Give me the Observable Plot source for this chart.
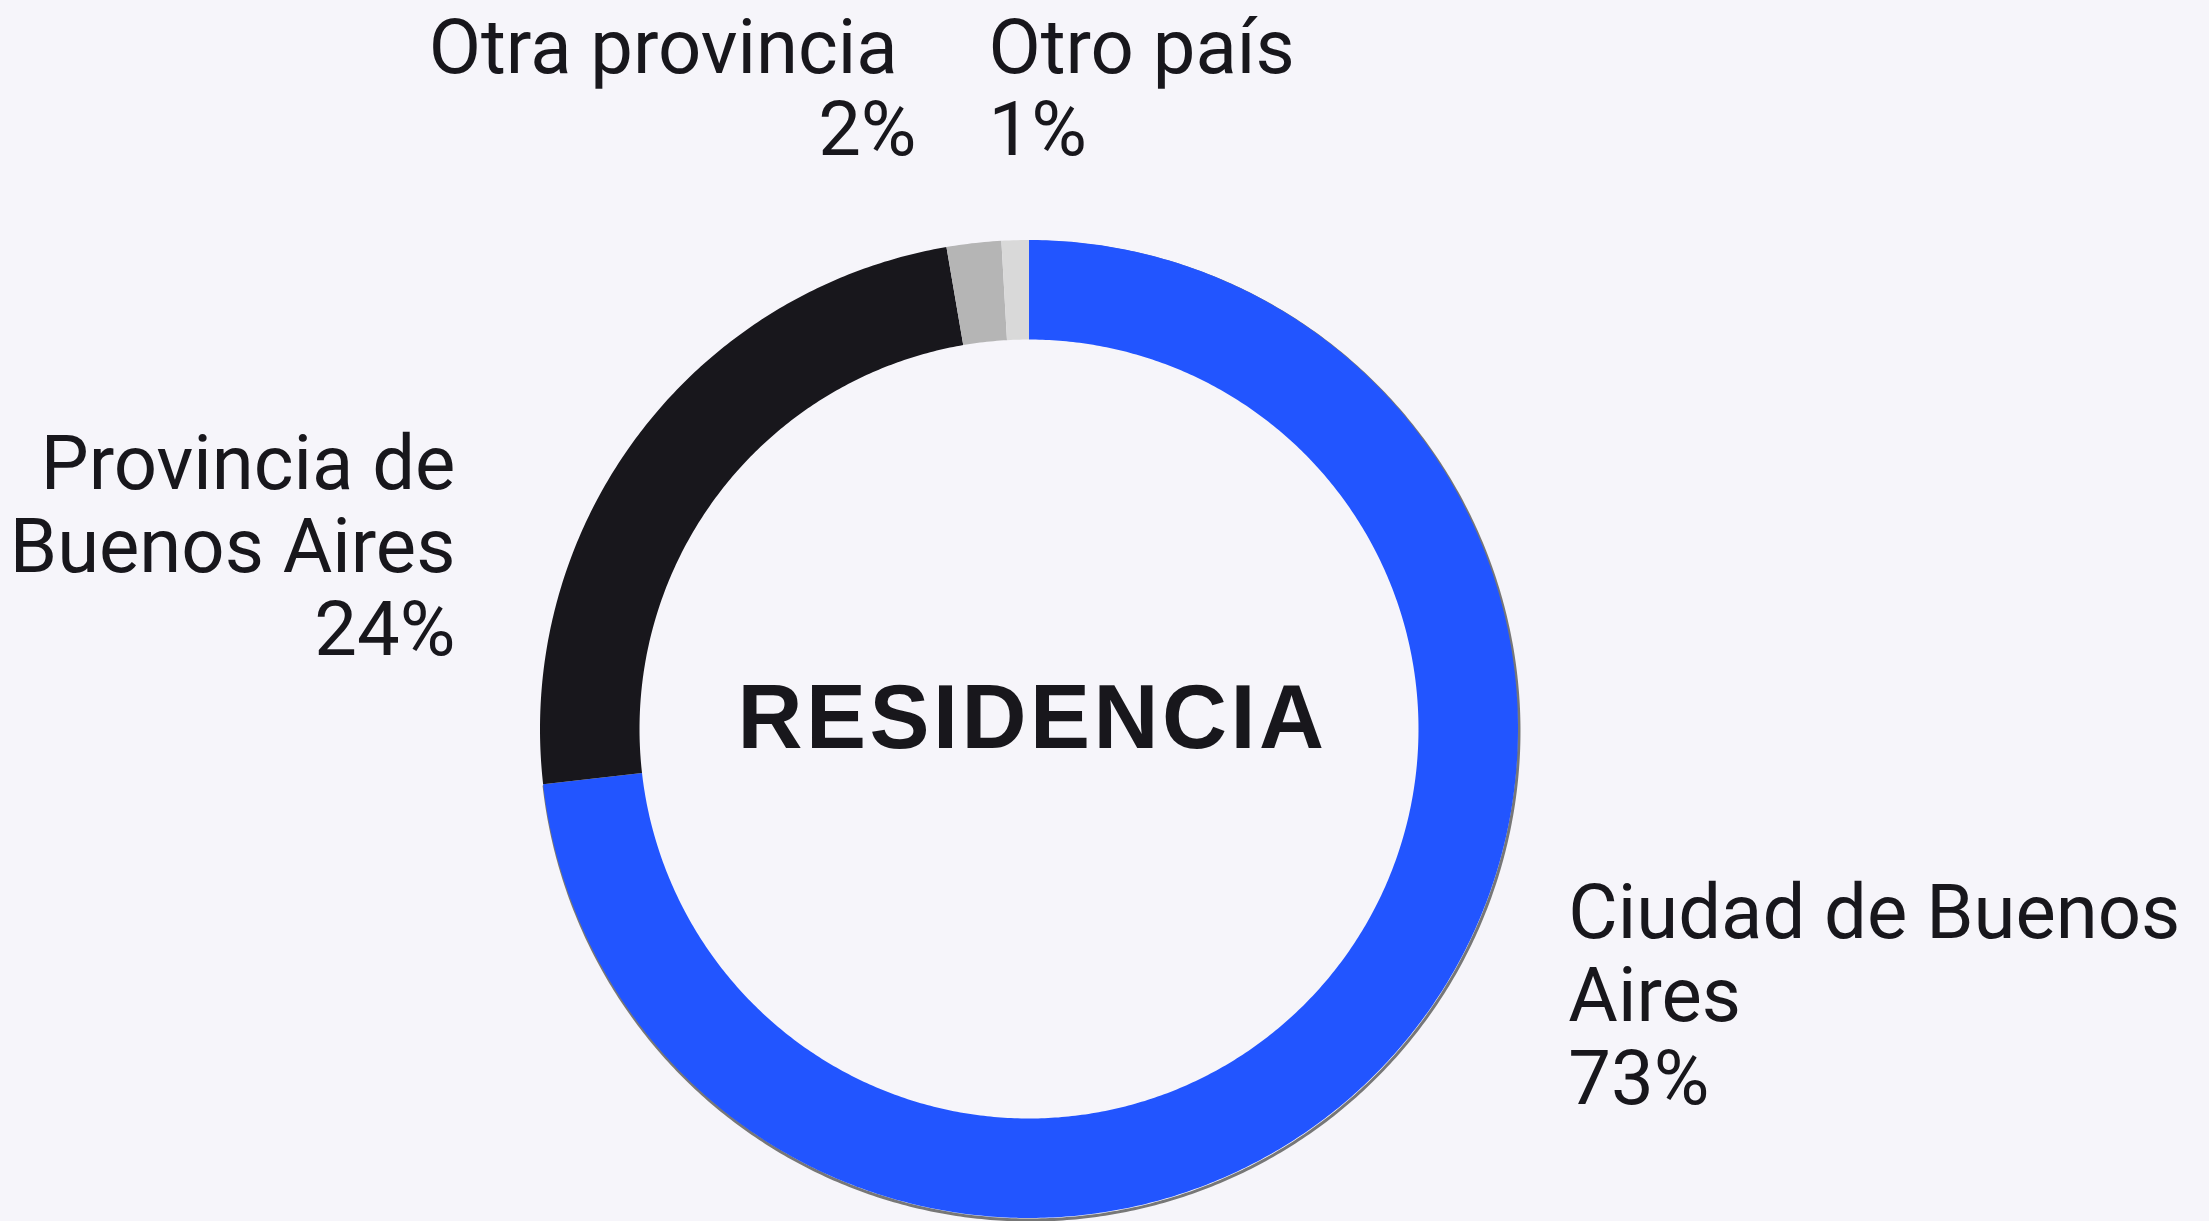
<!DOCTYPE html>
<html>
<head>
<meta charset="utf-8">
<script src="https://cdn.jsdelivr.net/npm/d3@7"></script>
<script src="https://cdn.jsdelivr.net/npm/@observablehq/plot@0.6"></script>
<style>
  html, body { margin: 0; padding: 0; background: #f6f5fa; }
  #chart svg { display: block; background: #f6f5fa; }
</style>
</head>
<body>
<div id="chart"></div>
<script>
// ---- data ----
const categories = ["Ciudad de Buenos Aires", "Provincia de Buenos Aires", "Otra provincia", "Otro país"];
const values = [73.2, 24.1, 1.8, 0.9];
const labelNames = ["Ciudad de Buenos\nAires", "Provincia de\nBuenos Aires", "Otra provincia\u00a0", "Otro país"];
const colors = ["#2255ff", "#18171c", "#b5b5b5", "#d9d9d9"];
const centerTitle = "RESIDENCIA";

// ---- layout ----
const W = 2209, H = 1221;
const cx = 1028.5, cy = 728.5, R = 489; // pixel centre / outer radius
const innerR = 0.7965;                   // inner radius (fraction of outer)
// label anchors (baseline of last line), in outer-radius units relative to centre
const labelPos = [
  {x: 1.103, y: -0.766, anchor: "start"},
  {x: -1.173, y: 0.152, anchor: "end"},
  {x: -0.23, y: 1.173, anchor: "end"},
  {x: -0.083, y: 1.173, anchor: "start"}
];

// ---- build slice polygons from values ----
const total = d3.sum(values);
const slices = [];
const shadow = [];
let acc = 0;
categories.forEach((cat, i) => {
  const a0 = acc / total * 2 * Math.PI;
  acc += values[i];
  const a1 = acc / total * 2 * Math.PI;
  const n = Math.max(4, Math.ceil((a1 - a0) / (Math.PI / 360)));
  const outer = d3.range(n + 1).map(k => a0 + (a1 - a0) * k / n);
  outer.forEach(t => slices.push({cat, x: Math.sin(t), y: Math.cos(t)}));
  outer.slice().reverse().forEach(t => slices.push({cat, x: innerR * Math.sin(t), y: innerR * Math.cos(t)}));
  if (i === 0) outer.forEach(t => shadow.push({cat, x: Math.sin(t), y: Math.cos(t)}));
});

const labels = categories.map((cat, i) => ({
  cat,
  text: `${labelNames[i]}\n${Math.round(values[i])}%`,
  ...labelPos[i]
}));

const plot = Plot.plot({
  width: W,
  height: H,
  margin: 0,
  style: {background: "#f6f5fa"},
  x: {domain: [-cx / R, (W - cx) / R], axis: null},
  y: {domain: [-(H - cy) / R, cy / R], axis: null},
  color: {domain: categories, range: colors},
  marks: [
    Plot.line(shadow, {x: "x", y: "y", stroke: "#777777", strokeWidth: 3, dx: 1, dy: 2}),
    Plot.line(slices, {x: "x", y: "y", z: "cat", fill: "cat", stroke: "none"}),
    Plot.text(labels.filter(d => d.anchor === "start"), {
      x: "x", y: "y", text: "text", textAnchor: "start", lineAnchor: "bottom",
      fontSize: 76, fontFamily: "Roboto", fill: "#18171c", lineHeight: 1.09
    }),
    Plot.text(labels.filter(d => d.anchor === "end"), {
      x: "x", y: "y", text: "text", textAnchor: "end", lineAnchor: "bottom",
      fontSize: 76, fontFamily: "Roboto", fill: "#18171c", lineHeight: 1.09
    }),
    Plot.text([centerTitle], {
      x: () => 0.007, y: () => -0.038, text: d => d, lineAnchor: "bottom",
      fontSize: 90, fontWeight: "bold", fontFamily: "Liberation Sans", fill: "#18171c"
    })
  ]
});
document.getElementById("chart").appendChild(plot);
d3.select(plot).selectAll("text").filter(function() { return this.textContent === centerTitle; })
  .style("letter-spacing", "3.5px");
</script>
</body>
</html>
